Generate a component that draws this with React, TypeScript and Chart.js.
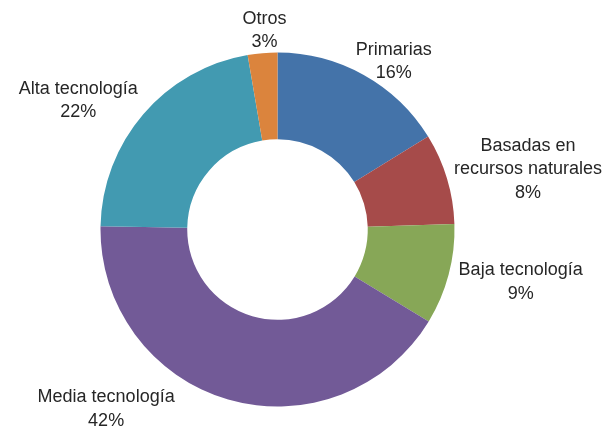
import React, { useEffect, useRef } from "react";
import { Chart, registerables } from "chart.js";

Chart.register(...registerables);

const categories = [
  ["Primarias"],
  ["Basadas en", "recursos naturales"],
  ["Baja tecnología"],
  ["Media tecnología"],
  ["Alta tecnología"],
  ["Otros"],
];
const shares = [16.2, 8.3, 9.2, 41.6, 22.0, 2.7];
const colors = ["#4473A9", "#A64B4A", "#87A757", "#725A97", "#429AB1", "#DB843D"];
// label block offsets from each slice's outer mid-point (styling)
const labelOffsets = [
  [30, -15],
  [81, -11],
  [72, 6],
  [-122, 8],
  [-65, -15],
  [2, -24],
];

const labelPlugin = {
  id: "outsideLabels",
  afterDatasetsDraw(chart: any) {
    const ctx = chart.ctx;
    const meta = chart.getDatasetMeta(0);
    const data = chart.data.datasets[0].data as number[];
    const total = data.reduce((a, b) => a + b, 0);
    ctx.save();
    ctx.font = '18px "Liberation Sans", Arial, sans-serif';
    ctx.fillStyle = "#262626";
    ctx.textAlign = "center";
    ctx.textBaseline = "alphabetic";
    const lh = 23.5;
    meta.data.forEach((arc: any, i: number) => {
      const mid = (arc.startAngle + arc.endAngle) / 2;
      const px = arc.x + Math.cos(mid) * arc.outerRadius;
      const py = arc.y + Math.sin(mid) * arc.outerRadius;
      const cx = px + labelOffsets[i][0];
      const cy = py + labelOffsets[i][1];
      const lines = [...categories[i], Math.round((data[i] / total) * 100) + "%"];
      const n = lines.length;
      lines.forEach((t, k) => {
        const ly = cy + (k - (n - 1) / 2) * lh + 6.5;
        ctx.fillText(t, cx, ly);
      });
    });
    ctx.restore();
  },
};

export default function App() {
  const ref = useRef<HTMLCanvasElement>(null);
  useEffect(() => {
    if (!ref.current) return;
    const chart = new Chart(ref.current, {
      type: "doughnut",
      data: {
        labels: categories.map((c) => c.join(" ")),
        datasets: [
          {
            data: shares,
            backgroundColor: colors,
            borderWidth: 0,
            hoverOffset: 0,
          },
        ],
      },
      options: {
        animation: false,
        responsive: false,
        cutout: "51%",
        layout: { padding: { top: 52.5, bottom: 19.5, left: 100.5, right: 161.5 } },
        plugins: {
          legend: { display: false },
          tooltip: { enabled: false },
        },
        events: [],
      },
      plugins: [labelPlugin],
    });
    return () => chart.destroy();
  }, []);
  return (
    <div style={{ position: "fixed", left: 0, top: 0, width: 616, height: 426, background: "#fff" }}>
      <canvas ref={ref} width={616} height={426} style={{ width: 616, height: 426 }} />
    </div>
  );
}
